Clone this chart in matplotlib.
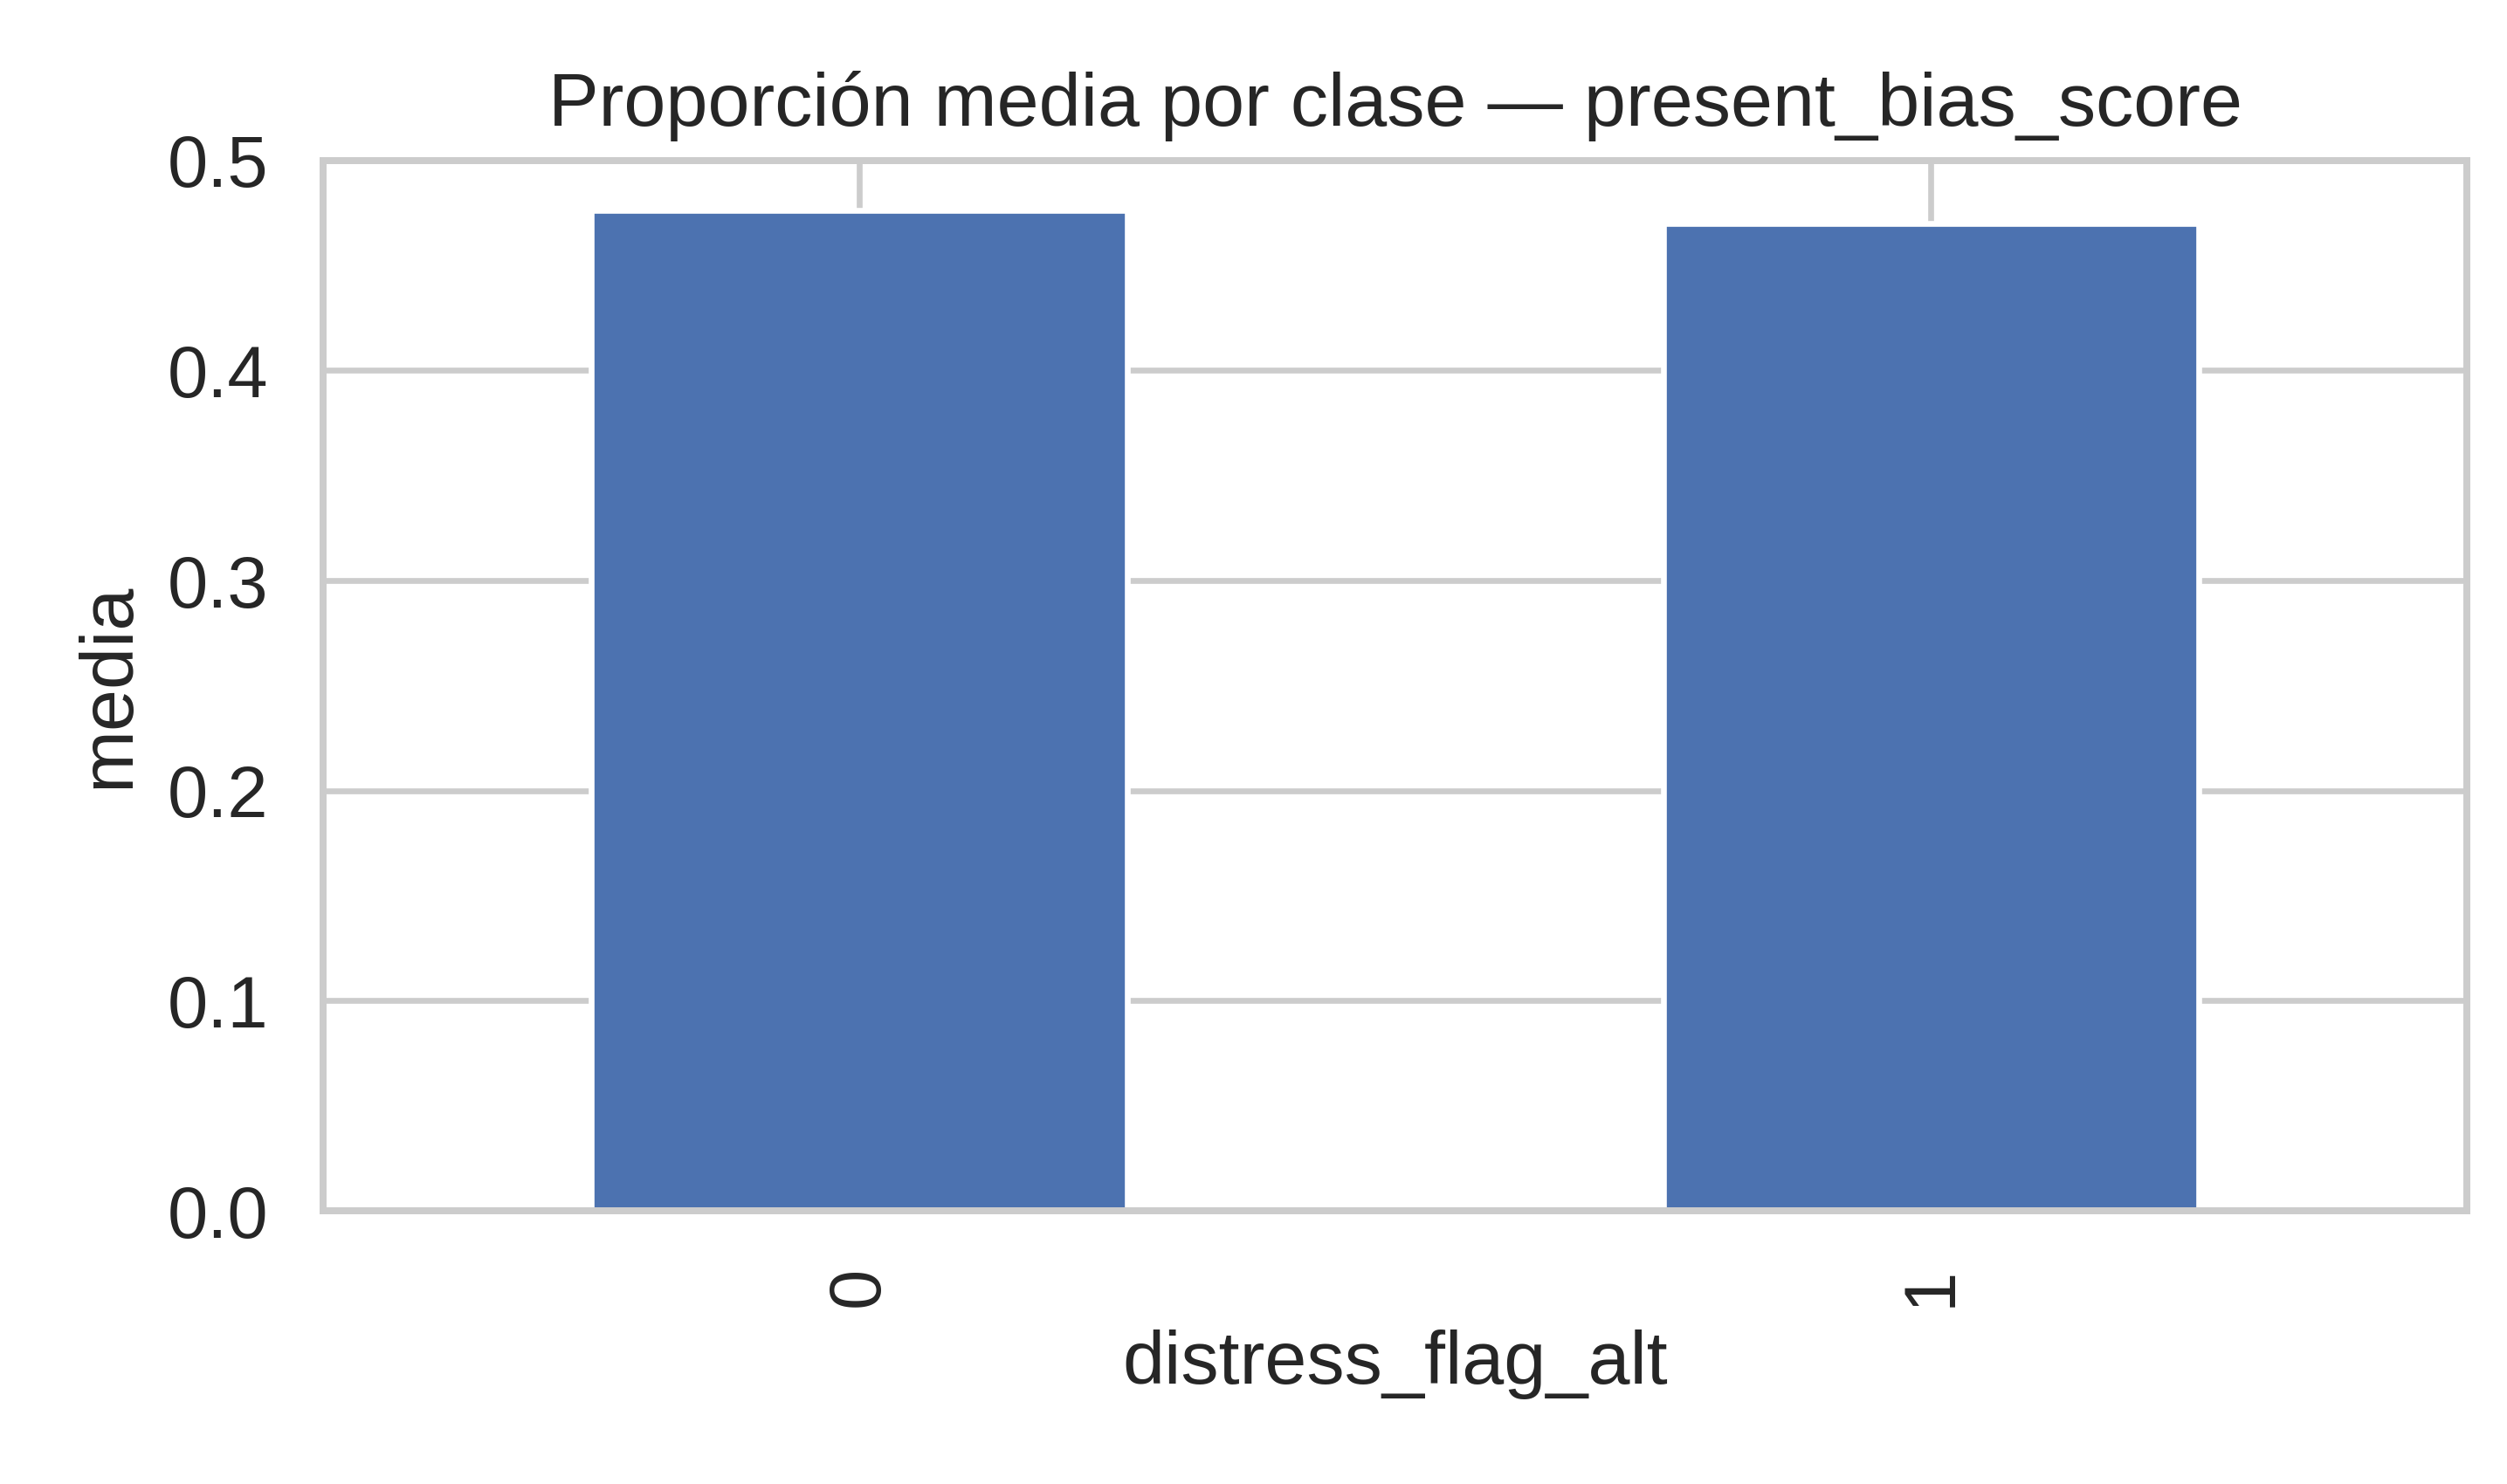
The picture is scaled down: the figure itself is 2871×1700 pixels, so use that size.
import matplotlib
matplotlib.use("Agg")
import matplotlib.pyplot as plt
import seaborn as sns
import pandas as pd

sns.set_theme(style="whitegrid")
plt.rcParams['font.family'] = ['Arial', 'Liberation Sans', 'DejaVu Sans']

classes = [0, 1]
means = [0.476, 0.470]

s = pd.Series(means, index=classes)
s.index.name = "distress_flag_alt"

fig = plt.figure(figsize=(6, 3.553), dpi=478.5)
ax = fig.add_axes([0.129, 0.184, 0.855, 0.708])
s.plot(kind="bar", ax=ax, color="#4c72b0", rot=90)
ax.set_ylim(0, 0.5)
ax.set_title("Proporción media por clase — present_bias_score", fontsize=13)
ax.set_ylabel("media", fontsize=13)
ax.set_xlabel("distress_flag_alt", fontsize=13)
ax.tick_params(labelsize=12.5)
for sp in ax.spines.values():
    sp.set_color("#cccccc")
    sp.set_linewidth(1.2)
fig.savefig("out.png")
